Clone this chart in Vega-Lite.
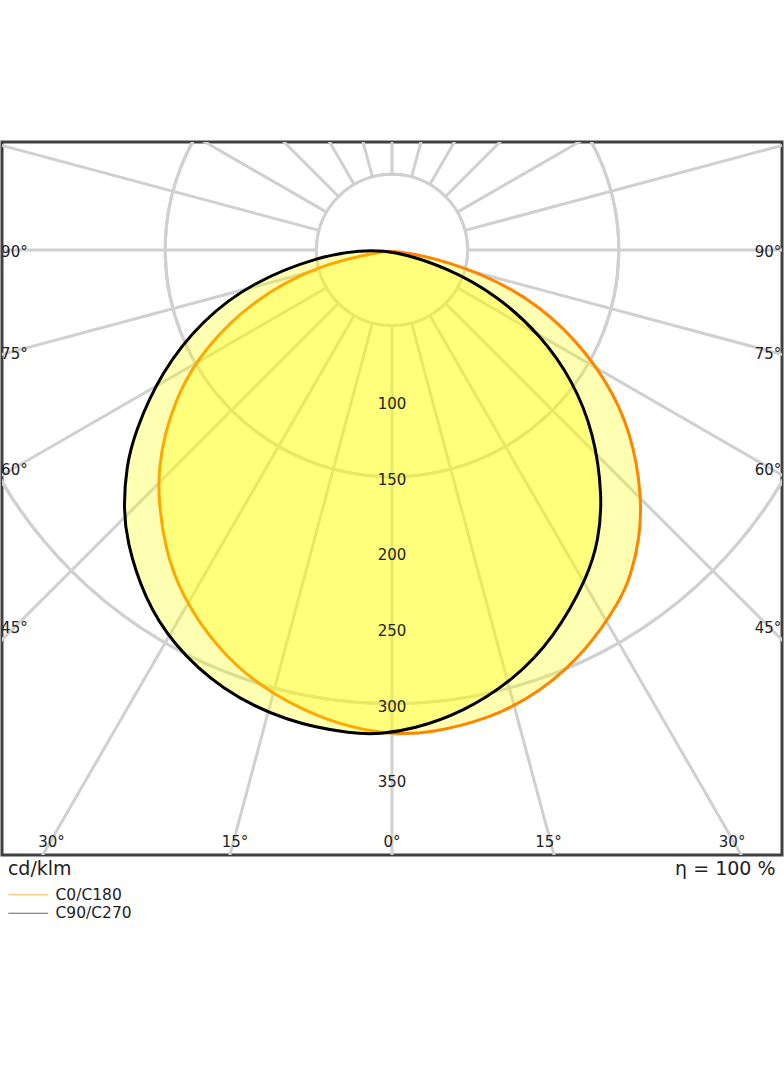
{
  "$schema": "https://vega.github.io/schema/vega-lite/v6.json",
  "width": 780,
  "height": 713,
  "autosize": {"type": "none"},
  "padding": {"left": 2, "top": 142, "right": 2, "bottom": 211},
  "background": "white",
  "datasets": {
    "rings": [
      {"r": 50}, {"r": 100}, {"r": 150}, {"r": 200}, {"r": 250},
      {"r": 300}, {"r": 350}, {"r": 400}, {"r": 450}
    ],
    "spokes": [
      {"a": 0}, {"a": 15}, {"a": 30}, {"a": 45}, {"a": 60}, {"a": 75},
      {"a": 90}, {"a": 105}, {"a": 120}, {"a": 135}, {"a": 150}, {"a": 165},
      {"a": 180}, {"a": 195}, {"a": 210}, {"a": 225}, {"a": 240}, {"a": 255},
      {"a": 270}, {"a": 285}, {"a": 300}, {"a": 315}, {"a": 330}, {"a": 345}
    ],
    "curves": [
      {"curve": "C0/C180", "i": 1, "x": 0, "y": 0},
      {"curve": "C0/C180", "i": 2, "x": 36.38, "y": 6.75},
      {"curve": "C0/C180", "i": 3, "x": 80.82, "y": 25.07},
      {"curve": "C0/C180", "i": 4, "x": 114.75, "y": 51.26},
      {"curve": "C0/C180", "i": 5, "x": 142.26, "y": 85.98},
      {"curve": "C0/C180", "i": 6, "x": 158.4, "y": 121.1},
      {"curve": "C0/C180", "i": 7, "x": 165.41, "y": 163.36},
      {"curve": "C0/C180", "i": 8, "x": 163.69, "y": 191.73},
      {"curve": "C0/C180", "i": 9, "x": 157.74, "y": 215.87},
      {"curve": "C0/C180", "i": 10, "x": 151.06, "y": 231.62},
      {"curve": "C0/C180", "i": 11, "x": 129.1, "y": 264.68},
      {"curve": "C0/C180", "i": 12, "x": 97.75, "y": 292.79},
      {"curve": "C0/C180", "i": 13, "x": 64.55, "y": 310.12},
      {"curve": "C0/C180", "i": 14, "x": 25.2, "y": 319.51},
      {"curve": "C0/C180", "i": 15, "x": 3.31, "y": 320.17},
      {"curve": "C0/C180", "i": 16, "x": -16.34, "y": 318.19},
      {"curve": "C0/C180", "i": 17, "x": -48.02, "y": 309.92},
      {"curve": "C0/C180", "i": 18, "x": -87.43, "y": 289.16},
      {"curve": "C0/C180", "i": 19, "x": -116.14, "y": 262.9},
      {"curve": "C0/C180", "i": 20, "x": -138.82, "y": 229.17},
      {"curve": "C0/C180", "i": 21, "x": -150.07, "y": 198.41},
      {"curve": "C0/C180", "i": 22, "x": -154.7, "y": 163.36},
      {"curve": "C0/C180", "i": 23, "x": -153.9, "y": 143.45},
      {"curve": "C0/C180", "i": 24, "x": -150.86, "y": 123.55},
      {"curve": "C0/C180", "i": 25, "x": -140.87, "y": 93.19},
      {"curve": "C0/C180", "i": 26, "x": -124.87, "y": 66.2},
      {"curve": "C0/C180", "i": 27, "x": -92.06, "y": 32.94},
      {"curve": "C0/C180", "i": 28, "x": -47.82, "y": 9.46},
      {"curve": "C0/C180", "i": 29, "x": -7.94, "y": 1.39},
      {"curve": "C90/C270", "i": 1, "x": 0, "y": 0},
      {"curve": "C90/C270", "i": 2, "x": 36.31, "y": 11.44},
      {"curve": "C90/C270", "i": 3, "x": 69.97, "y": 30.29},
      {"curve": "C90/C270", "i": 4, "x": 98.74, "y": 56.81},
      {"curve": "C90/C270", "i": 5, "x": 119.38, "y": 86.18},
      {"curve": "C90/C270", "i": 6, "x": 133.6, "y": 120.9},
      {"curve": "C90/C270", "i": 7, "x": 139.29, "y": 163.36},
      {"curve": "C90/C270", "i": 8, "x": 136.64, "y": 191.6},
      {"curve": "C90/C270", "i": 9, "x": 129.56, "y": 216.27},
      {"curve": "C90/C270", "i": 10, "x": 107.21, "y": 256.55},
      {"curve": "C90/C270", "i": 11, "x": 80.16, "y": 284.59},
      {"curve": "C90/C270", "i": 12, "x": 46.76, "y": 305.76},
      {"curve": "C90/C270", "i": 13, "x": 13.82, "y": 317.0},
      {"curve": "C90/C270", "i": 14, "x": -7.94, "y": 320.04},
      {"curve": "C90/C270", "i": 15, "x": -24.47, "y": 320.31},
      {"curve": "C90/C270", "i": 16, "x": -69.91, "y": 312.24},
      {"curve": "C90/C270", "i": 17, "x": -113.43, "y": 290.61},
      {"curve": "C90/C270", "i": 18, "x": -144.84, "y": 260.98},
      {"curve": "C90/C270", "i": 19, "x": -163.89, "y": 230.16},
      {"curve": "C90/C270", "i": 20, "x": -175.73, "y": 191.87},
      {"curve": "C90/C270", "i": 21, "x": -177.51, "y": 168.65},
      {"curve": "C90/C270", "i": 22, "x": -175.66, "y": 143.59},
      {"curve": "C90/C270", "i": 23, "x": -170.31, "y": 120.97},
      {"curve": "C90/C270", "i": 24, "x": -152.71, "y": 80.62},
      {"curve": "C90/C270", "i": 25, "x": -125.2, "y": 46.03},
      {"curve": "C90/C270", "i": 26, "x": -92.26, "y": 21.23},
      {"curve": "C90/C270", "i": 27, "x": -47.49, "y": 3.9},
      {"curve": "C90/C270", "i": 28, "x": -21.16, "y": 0.33}
    ],
    "ticks": [
      {"r": 100}, {"r": 150}, {"r": 200}, {"r": 250}, {"r": 300}, {"r": 350}
    ],
    "angles": [
      {"t": "90°", "x": -258.5, "y": 4.6, "pos": "left"},
      {"t": "75°", "x": -258.5, "y": 72.1, "pos": "left"},
      {"t": "60°", "x": -258.5, "y": 148.5, "pos": "left"},
      {"t": "45°", "x": -258.5, "y": 253.6, "pos": "left"},
      {"t": "90°", "x": 257.4, "y": 4.6, "pos": "right"},
      {"t": "75°", "x": 257.4, "y": 72.1, "pos": "right"},
      {"t": "60°", "x": 257.4, "y": 148.5, "pos": "right"},
      {"t": "45°", "x": 257.4, "y": 253.6, "pos": "right"},
      {"t": "30°", "x": -225.2, "y": 394.8, "pos": "bottom"},
      {"t": "15°", "x": -103.8, "y": 394.8, "pos": "bottom"},
      {"t": "0°", "x": 0, "y": 394.8, "pos": "bottom"},
      {"t": "15°", "x": 103.5, "y": 394.8, "pos": "bottom"},
      {"t": "30°", "x": 224.9, "y": 394.8, "pos": "bottom"}
    ],
    "notes": [
      {"t": "cd/klm", "x": -254.0, "y": 413.4, "pos": "left"},
      {"t": "η = 100 %", "x": 253.6, "y": 413.4, "pos": "right"}
    ]
  },
  "layer": [
    {
      "data": {"name": "rings"},
      "mark": {"type": "arc", "theta": 0, "theta2": 6.2832, "filled": false, "stroke": "#d0d0d0", "strokeWidth": 3, "clip": true},
      "encoding": {
        "x": {"datum": 0, "type": "quantitative", "scale": {"domain": [-257.9, 257.9], "nice": false, "zero": false}, "axis": null},
        "y": {"datum": 0, "type": "quantitative", "scale": {"domain": [-71.4, 400.1], "reverse": true, "nice": false, "zero": false}, "axis": null},
        "radius": {"field": "r", "type": "quantitative", "scale": {"type": "linear", "domain": [0, 500], "range": [0, 756], "nice": false}}
      }
    },
    {
      "data": {"name": "spokes"},
      "mark": {"type": "arc", "filled": false, "stroke": "#d0d0d0", "strokeWidth": 3, "clip": true},
      "encoding": {
        "x": {"datum": 0, "type": "quantitative", "scale": {"domain": [-257.9, 257.9], "nice": false, "zero": false}, "axis": null},
        "y": {"datum": 0, "type": "quantitative", "scale": {"domain": [-71.4, 400.1], "reverse": true, "nice": false, "zero": false}, "axis": null},
        "theta": {"field": "a", "type": "quantitative", "stack": null, "scale": {"domain": [0, 360], "range": [0, 6.2832]}},
        "theta2": {"field": "a"},
        "radius": {"datum": 500, "type": "quantitative", "scale": {"type": "linear", "domain": [0, 500], "range": [0, 756], "nice": false}},
        "radius2": {"datum": 50}
      }
    },
    {
      "data": {"name": "curves"},
      "mark": {"type": "line", "interpolate": "basis-closed", "fill": "#ffff00", "fillOpacity": 0.3, "strokeWidth": 3, "strokeJoin": "round"},
      "encoding": {
        "x": {"field": "x", "type": "quantitative", "scale": {"domain": [-257.9, 257.9], "nice": false, "zero": false}, "axis": null},
        "y": {"field": "y", "type": "quantitative", "scale": {"domain": [-71.4, 400.1], "reverse": true, "nice": false, "zero": false}, "axis": null},
        "order": {"field": "i", "type": "quantitative"},
        "stroke": {
          "field": "curve", "type": "nominal",
          "scale": {"domain": ["C0/C180", "C90/C270"], "range": ["#ff8400", "#000000"]},
          "legend": {
            "orient": "none", "legendX": 18.5, "legendY": 745, "title": null, "padding": 0,
            "symbolType": "M-4,0H4", "symbolSize": 100, "symbolStrokeWidth": 1, "symbolOpacity": 0.6,
            "labelFont": "DejaVu Sans", "labelFontSize": 15.5, "labelColor": "#222", "labelOffset": 19.5, "rowPadding": 1.5
          }
        }
      }
    },
    {
      "data": {"name": "ticks"},
      "mark": {"type": "text", "align": "center", "baseline": "alphabetic", "dy": 8, "font": "DejaVu Sans", "fontSize": 15, "color": "#222"},
      "encoding": {
        "x": {"datum": 0, "type": "quantitative", "scale": {"domain": [-257.9, 257.9], "nice": false, "zero": false}, "axis": null},
        "y": {"field": "r", "type": "quantitative", "scale": {"domain": [-71.4, 400.1], "reverse": true, "nice": false, "zero": false}, "axis": null},
        "text": {"field": "r", "type": "quantitative", "format": "d"}
      }
    },
    {
      "data": {"name": "angles"},
      "transform": [{"filter": "datum.pos === 'left'"}],
      "mark": {"type": "text", "align": "left", "baseline": "alphabetic", "font": "DejaVu Sans", "fontSize": 15, "color": "#222"},
      "encoding": {
        "x": {"field": "x", "type": "quantitative", "scale": {"domain": [-257.9, 257.9], "nice": false, "zero": false}, "axis": null},
        "y": {"field": "y", "type": "quantitative", "scale": {"domain": [-71.4, 400.1], "reverse": true, "nice": false, "zero": false}, "axis": null},
        "text": {"field": "t", "type": "nominal"}
      }
    },
    {
      "data": {"name": "angles"},
      "transform": [{"filter": "datum.pos === 'right'"}],
      "mark": {"type": "text", "align": "right", "baseline": "alphabetic", "font": "DejaVu Sans", "fontSize": 15, "color": "#222"},
      "encoding": {
        "x": {"field": "x", "type": "quantitative", "scale": {"domain": [-257.9, 257.9], "nice": false, "zero": false}, "axis": null},
        "y": {"field": "y", "type": "quantitative", "scale": {"domain": [-71.4, 400.1], "reverse": true, "nice": false, "zero": false}, "axis": null},
        "text": {"field": "t", "type": "nominal"}
      }
    },
    {
      "data": {"name": "angles"},
      "transform": [{"filter": "datum.pos === 'bottom'"}],
      "mark": {"type": "text", "align": "center", "baseline": "alphabetic", "font": "DejaVu Sans", "fontSize": 15, "color": "#222"},
      "encoding": {
        "x": {"field": "x", "type": "quantitative", "scale": {"domain": [-257.9, 257.9], "nice": false, "zero": false}, "axis": null},
        "y": {"field": "y", "type": "quantitative", "scale": {"domain": [-71.4, 400.1], "reverse": true, "nice": false, "zero": false}, "axis": null},
        "text": {"field": "t", "type": "nominal"}
      }
    },
    {
      "data": {"name": "notes"},
      "transform": [{"filter": "datum.pos === 'left'"}],
      "mark": {"type": "text", "align": "left", "baseline": "alphabetic", "font": "DejaVu Sans", "fontSize": 19, "color": "#222"},
      "encoding": {
        "x": {"field": "x", "type": "quantitative", "scale": {"domain": [-257.9, 257.9], "nice": false, "zero": false}, "axis": null},
        "y": {"field": "y", "type": "quantitative", "scale": {"domain": [-71.4, 400.1], "reverse": true, "nice": false, "zero": false}, "axis": null},
        "text": {"field": "t", "type": "nominal"}
      }
    },
    {
      "data": {"name": "notes"},
      "transform": [{"filter": "datum.pos === 'right'"}],
      "mark": {"type": "text", "align": "right", "baseline": "alphabetic", "font": "DejaVu Sans", "fontSize": 19, "color": "#222"},
      "encoding": {
        "x": {"field": "x", "type": "quantitative", "scale": {"domain": [-257.9, 257.9], "nice": false, "zero": false}, "axis": null},
        "y": {"field": "y", "type": "quantitative", "scale": {"domain": [-71.4, 400.1], "reverse": true, "nice": false, "zero": false}, "axis": null},
        "text": {"field": "t", "type": "nominal"}
      }
    }
  ],
  "config": {
    "font": "DejaVu Sans",
    "view": {"stroke": "#404040", "strokeWidth": 3}
  }
}
